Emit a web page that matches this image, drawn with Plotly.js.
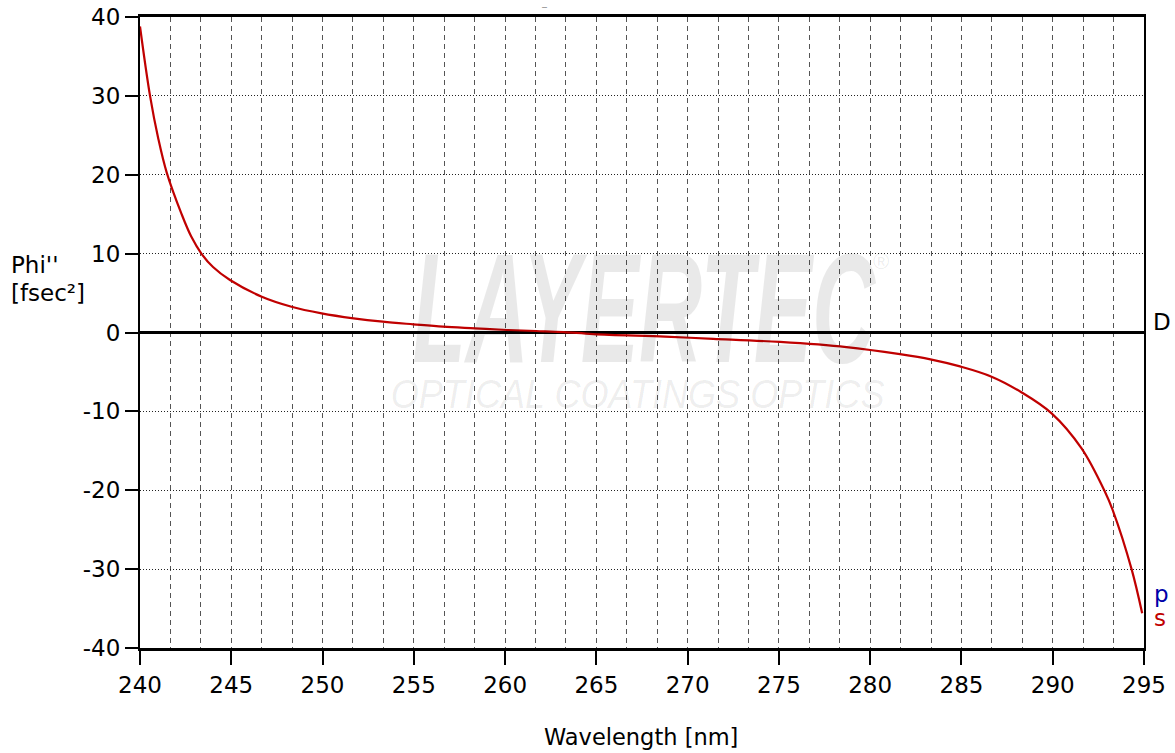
<!DOCTYPE html>
<html>
<head>
<meta charset="utf-8">
<script src="https://cdn.plot.ly/plotly-3.0.1.min.js"></script>
<style>
  html, body { margin: 0; padding: 0; background: #fff; }
  #chart { width: 1175px; height: 753px; }
</style>
</head>
<body>
<div id="chart"></div>
<script>
// Wavelength [nm] and GDD Phi'' [fsec^2] (s polarisation; p lies underneath)
const wavelength = [240.0, 240.55, 241.0, 241.46, 242.28, 242.8, 243.38, 244.0, 244.93, 246.67, 248.3, 249.95,
  251.7, 253.3, 254.97, 256.6, 258.35, 260.1, 261.7, 263.2, 264.83, 268.76, 271.4, 275.06, 278.7,
  281.63, 283.3, 284.92, 286.65, 288.3, 289.94, 291.58, 292.86, 293.3, 294.32, 294.9];
const phiS = [38.8, 30.0, 24.6, 20.3, 15.0, 12.2, 9.95, 8.3, 6.65, 4.54, 3.27, 2.43,
  1.80, 1.37, 1.04, 0.74, 0.53, 0.32, 0.19, 0.06, -0.2, -0.53, -0.8, -1.2, -1.85,
  -2.75, -3.4, -4.3, -5.6, -7.6, -10.25, -14.7, -20.2, -22.6, -30.0, -35.6];

const xTicks = [240, 245, 250, 255, 260, 265, 270, 275, 280, 285, 290, 295];
const yTicks = [-40, -30, -20, -10, 0, 10, 20, 30, 40];

const FONT = 'DejaVu Sans, Verdana, sans-serif';
const FS = 23;
const RED = '#c00000';
const BLUE = '#0000a8';

const traces = [
  { x: wavelength, y: phiS, mode: 'lines', line: { color: RED, width: 2.2, shape: 'spline', smoothing: 1 }, hoverinfo: 'skip', showlegend: false }
];

const layout = {
  width: 1175, height: 753,
  margin: { l: 140, r: 31, t: 17, b: 105 },
  paper_bgcolor: '#fff', plot_bgcolor: '#fff',
  font: { family: FONT, size: FS, color: '#000' },
  showlegend: false,
  xaxis: {
    range: [240, 295], tickvals: xTicks, ticktext: xTicks.map(String),
    ticks: 'outside', ticklen: 14, tickwidth: 2, tickcolor: '#000',
    showline: true, linewidth: 3, linecolor: '#000', mirror: true,
    showgrid: true, gridcolor: '#555', gridwidth: 1, griddash: '5px,4px',
    minor: { tick0: 240, dtick: 5 / 3, showgrid: true, gridcolor: '#555', gridwidth: 1, griddash: '5px,4px', ticks: '' },
    zeroline: false, tickfont: { family: FONT, size: FS, color: '#000' },
    fixedrange: true
  },
  yaxis: {
    range: [-40, 40], tickvals: yTicks, ticktext: yTicks.map(String),
    ticks: 'outside', ticklen: 13, tickwidth: 2, tickcolor: '#000',
    ticklabelstandoff: 0,
    showline: true, linewidth: 2, linecolor: '#000', mirror: true,
    showgrid: true, gridcolor: '#222', gridwidth: 1, griddash: '1px,2px',
    zeroline: true, zerolinecolor: '#000', zerolinewidth: 3,
    tickfont: { family: FONT, size: FS, color: '#000' },
    fixedrange: true
  },
  annotations: [
    // watermark
    { text: 'LAYERTEC', xref: 'paper', yref: 'paper', x: 0.502, y: 0.54, xanchor: 'center', yanchor: 'middle',
      showarrow: false, font: { family: 'Liberation Sans Narrow, Liberation Sans, Arial', size: 112, weight: 'bold', style: 'italic', color: 'rgba(0,0,0,0.085)' } },
    { text: '®', xref: 'paper', yref: 'paper', x: 0.738, y: 0.612, xanchor: 'center', yanchor: 'middle',
      showarrow: false, font: { family: 'Liberation Sans, Arial', size: 22, color: 'rgba(0,0,0,0.085)' } },
    { text: 'OPTICAL COATINGS OPTICS', xref: 'paper', yref: 'paper', x: 0.496, y: 0.402, xanchor: 'center', yanchor: 'middle',
      showarrow: false, font: { family: 'Liberation Sans Narrow, Liberation Sans, Arial', size: 41, style: 'italic', color: 'rgba(0,0,0,0.075)' } },
    // axis titles
    { text: "Phi''", xref: 'paper', yref: 'paper', x: -0.1305, y: 0.607, xanchor: 'left', yanchor: 'middle', showarrow: false,
      font: { family: FONT, size: FS, color: '#000' } },
    { text: '[fsec²]', xref: 'paper', yref: 'paper', x: -0.1305, y: 0.5626, xanchor: 'left', yanchor: 'middle', showarrow: false,
      font: { family: FONT, size: FS, color: '#000' } },
    { text: 'Wavelength [nm]', xref: 'paper', yref: 'paper', x: 0.499, y: -0.141, xanchor: 'center', yanchor: 'middle', showarrow: false,
      font: { family: FONT, size: FS - 0.5, color: '#000' } },
    // right-side labels
    { text: 'D', xref: 'paper', yref: 'paper', x: 1.007, y: 0.5166, xanchor: 'left', yanchor: 'middle', showarrow: false,
      font: { family: FONT, size: FS, color: '#000' } },
    { text: 'p', xref: 'paper', yref: 'paper', x: 1.008, y: 0.086, xanchor: 'left', yanchor: 'middle', showarrow: false,
      font: { family: FONT, size: FS, color: BLUE } },
    { text: 's', xref: 'paper', yref: 'paper', x: 1.008, y: 0.047, xanchor: 'left', yanchor: 'middle', showarrow: false,
      font: { family: FONT, size: FS, color: RED } },
    // tiny dash at top (empty title artefact)
    { text: '–', xref: 'paper', yref: 'paper', x: 0.403, y: 1.016, xanchor: 'center', yanchor: 'middle', showarrow: false,
      font: { family: 'Liberation Sans, Arial', size: 9, color: '#777' } }
  ]
};

Plotly.newPlot('chart', traces, layout, { staticPlot: true, displayModeBar: false }).then(function () {
  const texts = document.querySelectorAll('.annotation-text');
  texts.forEach(function (t) {
    const s = t.textContent;
    if (s === 'LAYERTEC') {
      t.style.transformBox = 'fill-box';
      t.style.transformOrigin = 'center';
      t.style.transform = 'scale(0.78,1.4)';
    } else if (s === 'OPTICAL COATINGS OPTICS') {
      t.style.transformBox = 'fill-box';
      t.style.transformOrigin = 'center';
      t.style.transform = 'scale(0.88,1.0)';
    }
  });
});
</script>
</body>
</html>
